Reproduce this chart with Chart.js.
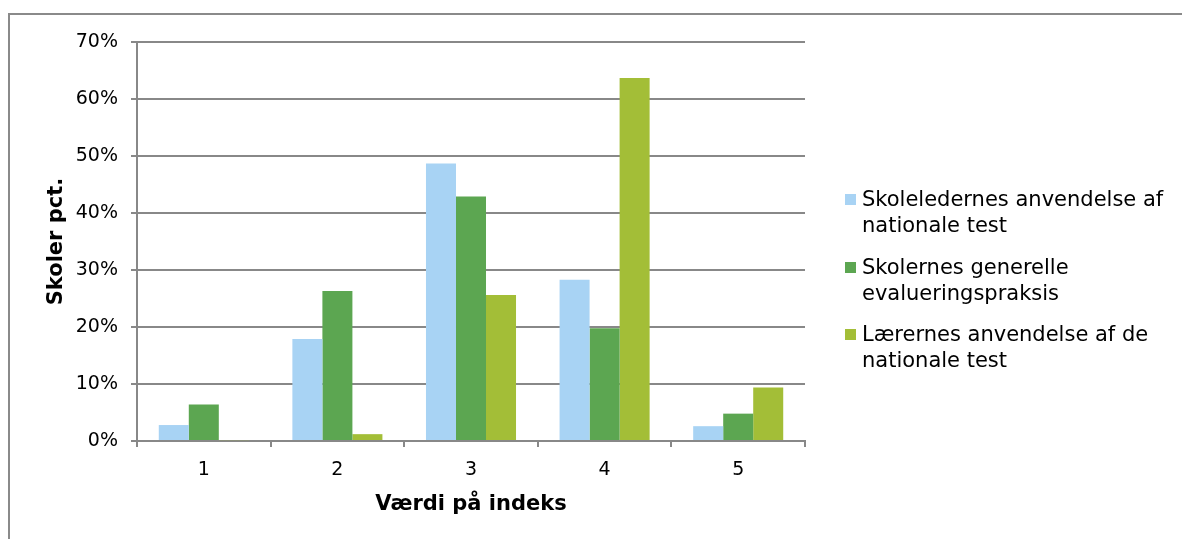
<!DOCTYPE html>
<html>
<head>
<meta charset="utf-8">
<script src="https://cdn.jsdelivr.net/npm/chart.js@4"></script>
<style>
  body { margin: 0; background: #fff; }
  #wrap { position: relative; width: 1182px; height: 539px; overflow: hidden; }
  #frame { position: absolute; left: 8px; top: 13px; right: 0; bottom: 0;
           border-top: 2px solid #8a8a8a; border-left: 2px solid #8a8a8a; }
  #chart_V { position: absolute; left: 0; top: 0; }
  #legend { position: absolute; left: 845px; top: 186px; font-family: 'DejaVu Sans';
            font-size: 21px; color: #000; }
  .item { position: relative; padding-left: 17px; line-height: 26px; margin-bottom: 15.5px; white-space: nowrap; }
  .box { position: absolute; left: 0; top: 8px; width: 11px; height: 11px; }
</style>
</head>
<body>
<div id="wrap">
  <div id="frame"></div>
  <canvas id="chart_V" width="1182" height="539"></canvas>
  <div id="legend"></div>
</div>
<script>
/* ------------------
    Data
-------------------*/
var categories = ['1', '2', '3', '4', '5'];
var skoleledere = [2.8, 17.9, 48.7, 28.3, 2.6];
var skolerne = [6.4, 26.3, 42.9, 19.8, 4.8];
var laererne = [0.15, 1.2, 25.6, 63.7, 9.4];
var seriesNames = [
  ['Skoleledernes anvendelse af', 'nationale test'],
  ['Skolernes generelle', 'evalueringspraksis'],
  ['Lærernes anvendelse af de', 'nationale test']
];
var seriesColors = ['#a8d3f4', '#5ca651', '#a3be37'];
var yTicks = [0, 10, 20, 30, 40, 50, 60, 70];

var FONT = 'DejaVu Sans';

var chart_V = new Chart(document.getElementById("chart_V"), {
    type: 'bar',
    data: {
      labels: categories,
      datasets: [
        { label: seriesNames[0].join(' '), backgroundColor: seriesColors[0], data: skoleledere },
        { label: seriesNames[1].join(' '), backgroundColor: seriesColors[1], data: skolerne },
        { label: seriesNames[2].join(' '), backgroundColor: seriesColors[2], data: laererne }
      ]
    },
    options: {
      responsive: false,
      animation: false,
      layout: { padding: { left: 20, right: 377, top: 42, bottom: 20 } },
      datasets: { bar: { categoryPercentage: 0.674, barPercentage: 1.0 } },
      plugins: {
        legend: { display: false },
        tooltip: { enabled: false }
      },
      scales: {
        x: {
          afterFit: function (s) { s.height = 78; },
          grid: { offset: true, drawOnChartArea: false, drawTicks: true, tickLength: 6, color: '#888', lineWidth: 2 },
          border: { color: '#888', width: 2 },
          ticks: { color: '#000', padding: 12, font: { family: FONT, size: 19 } },
          title: { display: true, text: 'Værdi på indeks', color: '#000', padding: { top: 0, bottom: 2 },
                   font: { family: FONT, size: 21, weight: 'bold' } }
        },
        y: {
          min: 0, max: 70,
          afterFit: function (s) { s.width = 117; },
          afterBuildTicks: function (s) { s.ticks = yTicks.map(function (v) { return { value: v }; }); },
          grid: { color: '#888', lineWidth: 2, tickLength: 6 },
          border: { color: '#888', width: 2 },
          ticks: { color: '#000', padding: 13, font: { family: FONT, size: 19 },
                   callback: function (v) { return v + '%'; } },
          title: { display: true, text: 'Skoler pct.', color: '#000', padding: { top: 24, bottom: 0 },
                   font: { family: FONT, size: 21, weight: 'bold' } }
        }
      }
    }
});

/* ------------------
    Legend (wrapped labels like the original)
-------------------*/
document.getElementById("legend").innerHTML = seriesNames.map(function (lines, i) {
  return '<div class="item"><span class="box" style="background:' + seriesColors[i] + '"></span>'
    + lines.join('<br>') + '</div>';
}).join('');
</script>
</body>
</html>
